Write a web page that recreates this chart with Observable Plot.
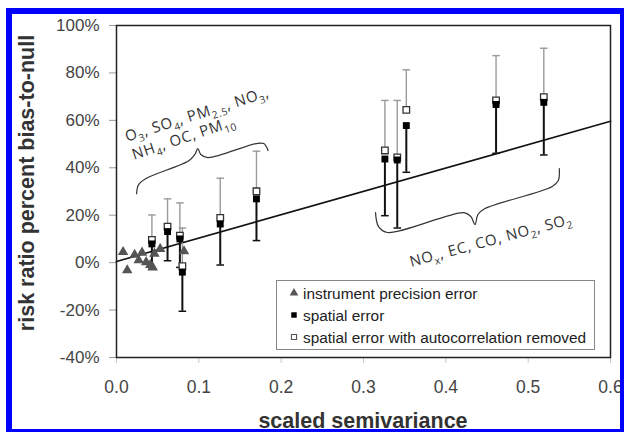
<!DOCTYPE html>
<html><head><meta charset="utf-8">
<script src="https://cdn.jsdelivr.net/npm/d3@7"></script>
<script src="https://cdn.jsdelivr.net/npm/@observablehq/plot@0.6"></script>
<style>
html,body{margin:0;padding:0;background:#fff;}
#chart{position:relative;width:624px;height:432px;overflow:hidden;}
</style></head>
<body><div id="chart"></div>
<script>
// ---- data ----
const xTicks = [0, 0.1, 0.2, 0.3, 0.4, 0.5, 0.6];
const yTicks = [-40, -20, 0, 20, 40, 60, 80, 100];

// instrument precision error (triangles)
const instX = [0.008, 0.013, 0.022, 0.027, 0.031, 0.036, 0.041, 0.044, 0.046, 0.053, 0.082];
const instY = [4.5, -3.2, 3.3, 1.0, 4.2, 0.2, -1.0, -2.0, 3.8, 5.8, 4.8];

// spatial error (filled squares, black bars)
const spX  = [0.043, 0.062, 0.077, 0.080, 0.126, 0.170, 0.326, 0.341, 0.352, 0.461, 0.519];
const spY  = [7.9, 13.1, 10.0, -4.0, 16.3, 26.9, 43.7, 43.3, 57.8, 66.7, 67.6];
const spLo = [-2.7, 0.8, -2.0, -20.5, -1.0, 9.3, 19.8, 14.6, 38.1, 46.1, 45.4];

// spatial error with autocorrelation removed (open squares, gray bars)
const acY  = [9.6, 15.2, 11.4, -1.5, 18.9, 30.1, 47.3, 44.4, 64.4, 68.4, 69.8];
const acHi = [20.1, 26.9, 25.2, 14.6, 35.6, 47.0, 68.4, 68.4, 81.3, 87.3, 90.4];

// fitted line
const fitX = [0, 0.6];
const fitY = [0.5, 59.6];

// braces (annotation paths)
const brace1X = [0.0244, 0.0268, 0.0354, 0.0878, 0.0951, 0.0988, 0.1024, 0.111, 0.1695, 0.179, 0.184];
const brace1Y = [29.1, 32.9, 35.4, 43.0, 45.6, 48.1, 45.6, 44.3, 50.2, 50.2, 47.3];
const brace2X = [0.3146, 0.3183, 0.3293, 0.422, 0.4305, 0.4354, 0.439, 0.4476, 0.5293, 0.5366, 0.5378];
const brace2Y = [21.1, 15.2, 12.7, 21.1, 19.4, 16.0, 20.3, 22.8, 32.1, 34.6, 39.7];

// annotation texts
const annText = ["O_3, SO_4, PM_{2.5}, NO_3,", "NH_4, OC, PM_{10}", "NO_x, EC, CO, NO_2, SO_2"];
const annX = [0.0134, 0.022, 0.3585];
const annY = [50.8, 43.2, -2.0];
const annRot = [-17.5, -18.5, -15];

const legendLabels = ["instrument precision error", "spatial error", "spatial error with autocorrelation removed"];

// ---- build tables ----
const inst = instX.map((x, i) => ({x, y: instY[i]}));
const pts = spX.map((x, i) => ({x, sy: spY[i], slo: spLo[i], ay: acY[i], ahi: acHi[i]}));
const fit = fitX.map((x, i) => ({x, y: fitY[i]}));
const b1 = brace1X.map((x, i) => ({x, y: brace1Y[i]}));
const b2 = brace2X.map((x, i) => ({x, y: brace2Y[i]}));

const capSymbol = {
  draw(ctx, size) {
    const r = Math.sqrt(size / Math.PI);
    ctx.moveTo(-r, 0); ctx.lineTo(r, 0);
  }
};

const chart = Plot.plot({
  width: 624, height: 432,
  marginLeft: 116, marginRight: 14, marginTop: 25, marginBottom: 75,
  style: {fontFamily: "'Liberation Sans', Arial, sans-serif", fontSize: "17px", color: "#444", background: "white", overflow: "visible"},
  x: {domain: [0, 0.6]},
  y: {domain: [-40, 100]},
  marks: [
    Plot.axisX({ticks: xTicks, tickFormat: d => d.toFixed(1), tickSize: 6, tickPadding: 17, stroke: "#c8c8c8", fill: "#444", fontSize: 17.5, label: null}),
    Plot.axisY({ticks: yTicks, tickFormat: d => d + "%", tickSize: 7, tickPadding: 10, stroke: "#999", fill: "#444", fontSize: 17, label: null}),
    Plot.frame({stroke: "#222", strokeWidth: 1.5}),
    Plot.line(fit, {x: "x", y: "y", stroke: "#111", strokeWidth: 1.6}),
    Plot.line(b1, {x: "x", y: "y", stroke: "#333", strokeWidth: 1.2, curve: "catmull-rom"}),
    Plot.line(b2, {x: "x", y: "y", stroke: "#333", strokeWidth: 1.2, curve: "catmull-rom"}),
    // gray bars (upper)
    Plot.ruleX(pts, {x: "x", y1: "ay", y2: "ahi", stroke: "#9a9a9a", strokeWidth: 1.4}),
    Plot.dot(pts, {x: "x", y: "ahi", symbol: capSymbol, r: 3.8, stroke: "#9a9a9a", strokeWidth: 1.4, fill: "none"}),
    // black bars (lower)
    Plot.ruleX(pts, {x: "x", y1: "slo", y2: "sy", stroke: "#111", strokeWidth: 2}),
    Plot.dot(pts, {x: "x", y: "slo", symbol: capSymbol, r: 3.8, stroke: "#111", strokeWidth: 1.5, fill: "none"}),
    // triangles
    Plot.dot(inst, {x: "x", y: "y", symbol: "triangle", r: 3.9, fill: "#555", stroke: "none"}),
    // open squares
    Plot.dot(pts, {x: "x", y: "ay", symbol: "square", r: 3.7, fill: "white", stroke: "#333", strokeWidth: 1.3}),
    // filled squares
    Plot.dot(pts, {x: "x", y: "sy", symbol: "square", r: 3.9, fill: "#000", stroke: "none"})
  ]
});
document.getElementById("chart").appendChild(chart);

// ---- post annotations ----
const svg = d3.select(chart);
let sx, sy;
try { sx = chart.scale("x"); sy = chart.scale("y"); } catch (e) {}
const X = v => (sx && sx.apply) ? sx.apply(v) : 116 + (v / 0.6) * 494;
const Y = v => (sy && sy.apply) ? sy.apply(v) : 357 - ((v + 40) / 140) * 332;

function addRich(t, str, fontSize) {
  const re = /_\{([^}]*)\}|_(.)/g;
  let last = 0, m;
  while ((m = re.exec(str)) !== null) {
    if (m.index > last) t.append("tspan").text(str.slice(last, m.index));
    const sub = m[1] !== undefined ? m[1] : m[2];
    t.append("tspan").attr("font-size", fontSize * 0.68).attr("dy", fontSize * 0.28).text(sub);
    t.append("tspan").attr("dy", -fontSize * 0.28).text("\u200b");
    last = re.lastIndex;
  }
  if (last < str.length) t.append("tspan").text(str.slice(last));
}

annText.forEach((s, i) => {
  const fs = 15;
  const t = svg.append("text")
    .attr("transform", `translate(${X(annX[i])},${Y(annY[i])}) rotate(${annRot[i]})`)
    .attr("text-anchor", "start")
    .attr("font-family", "'Open Sans', 'DejaVu Sans', sans-serif")
    .attr("font-size", fs)
    .attr("letter-spacing", 0.7)
    .attr("fill", "#333");
  addRich(t, s, fs);
});

// axis titles
svg.append("text")
  .attr("x", (X(0) + X(0.6)) / 2).attr("y", 428)
  .attr("text-anchor", "middle")
  .attr("font-family", "'Liberation Sans', Arial, sans-serif")
  .attr("font-weight", "bold").attr("font-size", 21.5).attr("fill", "#333")
  .text("scaled semivariance");
svg.append("text")
  .attr("transform", `translate(33.5,183) rotate(-90)`)
  .attr("text-anchor", "middle")
  .attr("font-family", "'Liberation Sans', Arial, sans-serif")
  .attr("font-weight", "bold").attr("font-size", 21.5).attr("fill", "#333")
  .text("risk ratio percent bias-to-null");

// legend
const lg = svg.append("g");
lg.append("rect").attr("x", 276.5).attr("y", 280.5).attr("width", 318).attr("height", 69)
  .attr("fill", "white").attr("stroke", "#888").attr("stroke-width", 1);
const rowsY = [293, 315, 337];
const tri = d3.symbol(d3.symbolTriangle, Math.PI * 3.2 * 3.2)();
lg.append("path").attr("d", tri).attr("transform", `translate(294,${rowsY[0]})`).attr("fill", "#555");
lg.append("path").attr("d", d3.symbol(d3.symbolSquare, 30)()).attr("transform", `translate(294,${rowsY[1]})`).attr("fill", "#000");
lg.append("path").attr("d", d3.symbol(d3.symbolSquare, 26)()).attr("transform", `translate(294,${rowsY[2]})`).attr("fill", "white").attr("stroke", "#555").attr("stroke-width", 1.1);
legendLabels.forEach((s, i) => {
  lg.append("text").attr("x", 303).attr("y", rowsY[i]).attr("dy", "0.36em")
    .attr("text-anchor", "start")
    .attr("font-family", "'Liberation Sans', Arial, sans-serif")
    .attr("font-size", 15.4).attr("fill", "#222").text(s);
});

// blue outer frame
svg.append("rect").attr("x", 9).attr("y", 11).attr("width", 614).attr("height", 421)
  .attr("fill", "none").attr("stroke", "#0000ff").attr("stroke-width", 6);
</script></body></html>
